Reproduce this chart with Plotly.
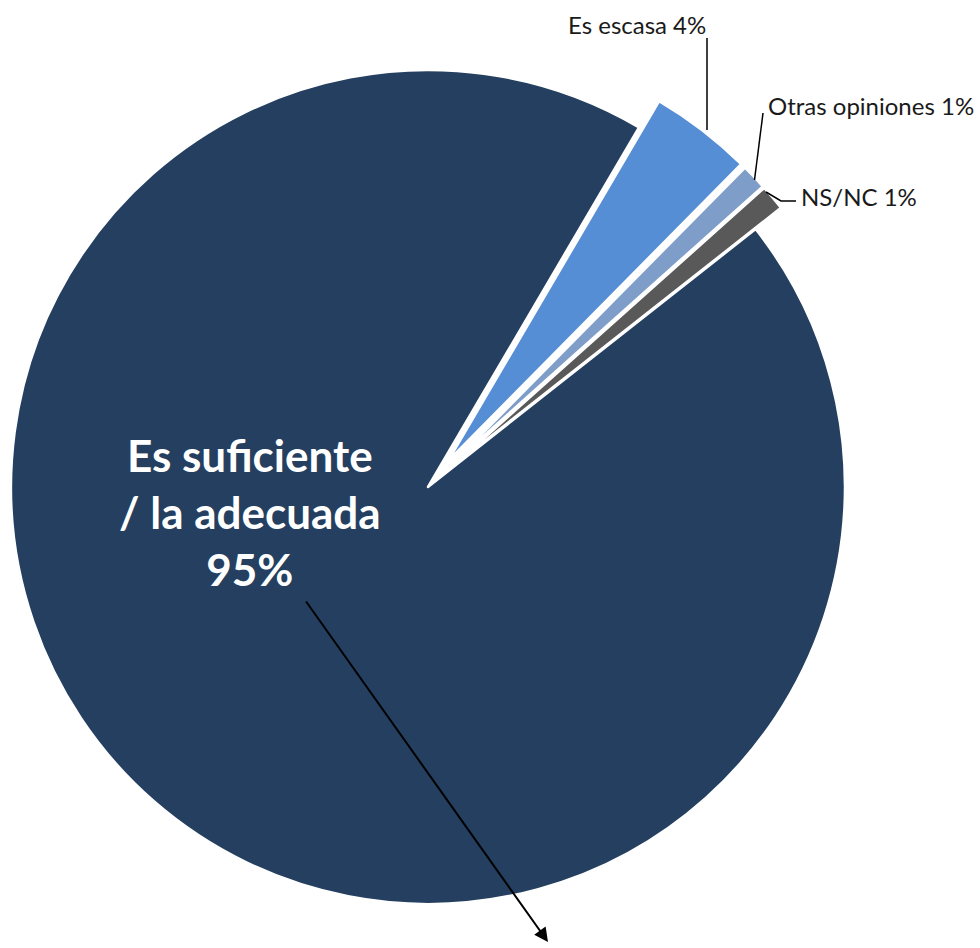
import math
import plotly.graph_objects as go

# Opinión sobre la cantidad (porcentajes redondeados)
categorias = ["Es escasa", "Otras opiniones", "NS/NC", "Es suficiente / la adecuada"]
porcentajes = [4, 1, 1, 95]
colores = ["#558ED5", "#7F9DC9", "#595959", "#253F60"]

W, H = 980, 948
CX, CY, R = 428, 487, 417      # centro y radio de la tarta, en píxeles
ROTACION = 30.4                 # ángulo de inicio (grados, sentido horario)
SEPARACION = 33                 # desplazamiento de las porciones pequeñas, px
FUENTE = "Lato"


def px_x(x):
    return x / W


def px_y(y):
    return 1 - y / H


def dominio(cx, cy):
    return dict(x=[(cx - R) / W, (cx + R) / W], y=[1 - (cy + R) / H, 1 - (cy - R) / H])


def traza(visible, cx, cy):
    cols = [c if i == visible else "rgba(0,0,0,0)" for i, c in enumerate(colores)]
    anchos = [2.5 if i == visible else 0 for i in range(len(colores))]
    return go.Pie(
        labels=categorias,
        values=porcentajes,
        sort=False,
        direction="clockwise",
        rotation=ROTACION,
        marker=dict(colors=cols, line=dict(color="white", width=anchos)),
        textinfo="none",
        hoverinfo="skip",
        showlegend=False,
        domain=dominio(cx, cy),
    )


fig = go.Figure()

total = sum(porcentajes)
idx_grande = porcentajes.index(max(porcentajes))

# porción principal, sin desplazar
fig.add_trace(traza(idx_grande, CX, CY))

# porciones pequeñas, separadas a lo largo de su bisectriz
acumulado = 0
for i, v in enumerate(porcentajes):
    ang = math.radians(ROTACION + (acumulado + v / 2) / total * 360)
    acumulado += v
    if i == idx_grande:
        continue
    dx = SEPARACION * math.sin(ang)
    dy = -SEPARACION * math.cos(ang)
    fig.add_trace(traza(i, CX + dx, CY + dy))

anotaciones = []

# etiqueta interior de la porción principal
texto_grande = categorias[idx_grande].replace(" / ", "<br>/ ") + f"<br>{porcentajes[idx_grande]}%"
anotaciones.append(dict(
    x=px_x(250), y=px_y(512), xref="paper", yref="paper",
    text=f"<b>{texto_grande}</b>", showarrow=False,
    font=dict(family=FUENTE, size=44, color="white"),
    xanchor="center", yanchor="middle", align="center",
))

# flecha que sale de la etiqueta principal
anotaciones.append(dict(
    x=px_x(548), y=px_y(942), xref="paper", yref="paper",
    ax=-243, ay=-342, text="", showarrow=True,
    arrowhead=2, arrowsize=1.4, arrowwidth=2, arrowcolor="black",
))

# etiquetas exteriores
posiciones = {0: (566, 25), 1: (766, 105), 2: (799, 196)}
for i, (x, y) in posiciones.items():
    anotaciones.append(dict(
        x=px_x(x), y=px_y(y), xref="paper", yref="paper",
        text=f"{categorias[i]} {porcentajes[i]}%", showarrow=False,
        font=dict(family=FUENTE, size=24, color="#1a1a1a"),
        xanchor="left", yanchor="middle",
    ))

# líneas guía
linea = dict(color="black", width=1.5)
guias = [
    [(707, 38), (707, 130)],
    [(763, 113), (754.5, 180)],
    [(766, 192), (781, 201), (796, 201)],
]
formas = []
for pts in guias:
    path = "M " + " L ".join(f"{px_x(x)},{px_y(y)}" for x, y in pts)
    formas.append(dict(type="path", xref="paper", yref="paper", path=path, line=linea))

fig.update_layout(
    width=W, height=H,
    margin=dict(l=0, r=0, t=0, b=0),
    paper_bgcolor="white", plot_bgcolor="white",
    annotations=anotaciones, shapes=formas,
)

fig.write_html("out.html")
